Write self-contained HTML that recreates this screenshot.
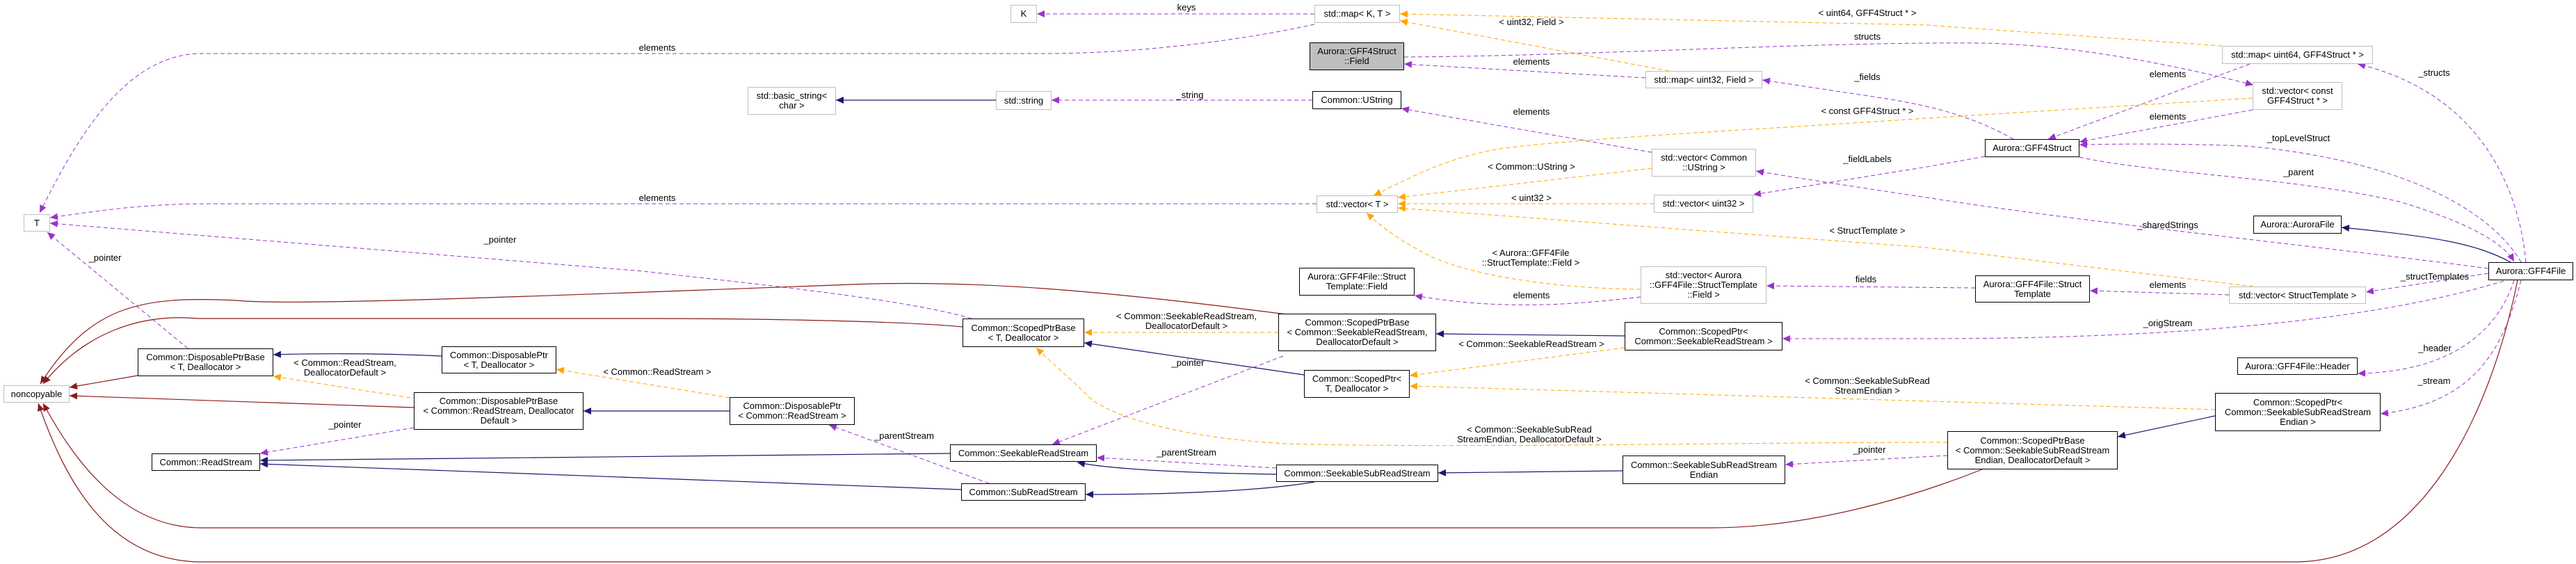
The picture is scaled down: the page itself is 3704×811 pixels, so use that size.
<!DOCTYPE html>
<html><head><meta charset="utf-8"><style>
body{margin:0;width:3704px;height:811px;background:#fff;position:relative;overflow:hidden;font:13px/14px "Liberation Sans",Arial,sans-serif;color:#000}
.n{position:absolute;box-sizing:border-box;border:1px solid #000;background:#fff;display:flex;align-items:center;justify-content:center;text-align:center;white-space:nowrap}
.g{border-color:#bfbfbf}
.l{position:absolute;transform:translate(-50%,-50%);white-space:nowrap;text-align:center;line-height:14px}
svg{position:absolute;left:0;top:0}
</style></head><body>
<svg width="3704" height="811" viewBox="0 0 3704 811" fill="none">
<defs>
<marker id="p" markerUnits="userSpaceOnUse" markerWidth="12" markerHeight="10" refX="11" refY="5" orient="auto"><path d="M0,0L11,5L0,10z" fill="#9a32cd"/></marker>
<marker id="o" markerUnits="userSpaceOnUse" markerWidth="12" markerHeight="10" refX="11" refY="5" orient="auto"><path d="M0,0L11,5L0,10z" fill="#ffa500"/></marker>
<marker id="b" markerUnits="userSpaceOnUse" markerWidth="12" markerHeight="10" refX="11" refY="5" orient="auto"><path d="M0,0L11,5L0,10z" fill="#191970"/></marker>
<marker id="r" markerUnits="userSpaceOnUse" markerWidth="12" markerHeight="10" refX="11" refY="5" orient="auto"><path d="M0,0L11,5L0,10z" fill="#8b1a1a"/></marker>
</defs>
<g stroke="#9a32cd" stroke-dasharray="6,4" stroke-width="1" marker-end="url(#p)">
<path d="M1890,20L1491,20"/>
<path d="M1890,35C1800,55 1650,77 1500,77L290,77C180,77 110,200 57,306"/>
<path d="M1887,144L1512,144"/>
<path d="M1893,293L300,293C200,293 130,305 72,313"/>
<path d="M1397,458C1300,430 1100,410 925,390L72,321"/>
<path d="M270,501L68,334"/>
<path d="M595,615L374,652"/>
<path d="M1422,695L1192,611"/>
<path d="M1845,512L1513,639"/>
<path d="M1835,673L1577,658"/>
<path d="M2800,655L2567,668"/>
<path d="M3625,403C3600,500 3560,580 3423,595"/>
<path d="M3615,403C3590,480 3520,535 3390,537"/>
<path d="M3600,404C3450,450 3200,487 2770,487L2563,487"/>
<path d="M3578,393L3402,420"/>
<path d="M3578,386C3300,350 3000,320 2770,284C2650,266 2580,255 2525,246"/>
<path d="M2990,226C3100,250 3300,255 3450,290C3550,320 3600,350 3615,376"/>
<path d="M3625,377C3580,300 3450,230 3230,210C3100,205 3010,208 2990,208"/>
<path d="M3632,377C3620,250 3550,130 3390,92"/>
<path d="M2895,200C2850,175 2800,155 2700,140L2534,115"/>
<path d="M2854,225L2770,240L2521,280"/>
<path d="M3235,92L2945,200"/>
<path d="M3239,158L2990,204"/>
<path d="M2019,82C2300,80 2600,60 2850,62C3000,65 3150,100 3240,122"/>
<path d="M2366,112L2019,92"/>
<path d="M2375,219L2015,156"/>
<path d="M2359,427C2250,440 2150,445 2034,425"/>
<path d="M2840,414L2540,411"/>
<path d="M3205,424L3005,418"/>
</g>
<g stroke="#ffa500" stroke-dasharray="6,4" stroke-width="1" marker-end="url(#o)">
<path d="M590,572L393,541"/>
<path d="M1049,572L800,531"/>
<path d="M1838,478L1559,478"/>
<path d="M2800,636C2500,636 2100,645 1850,638C1700,630 1600,600 1567,572C1540,545 1510,520 1490,500"/>
<path d="M2336,500L2027,540"/>
<path d="M3185,589L2027,555"/>
<path d="M2400,102L2013,30"/>
<path d="M3195,66L2770,36L2013,20"/>
<path d="M3239,141L2770,170C2500,188 2250,200 2150,215C2070,230 2020,260 1975,281"/>
<path d="M2375,242L2010,284"/>
<path d="M2378,293L2010,293"/>
<path d="M3240,412L2770,356L2010,299"/>
<path d="M2359,416C2250,415 2130,400 2060,370C2010,345 1985,325 1965,306"/>
</g>
<g stroke="#191970" stroke-width="1.2" marker-end="url(#b)">
<path d="M1432,144L1202,144"/>
<path d="M635,512C550,508 450,508 393,510"/>
<path d="M1049,591L839,591"/>
<path d="M1366,652L374,662"/>
<path d="M1382,704L374,667"/>
<path d="M1875,539L1559,493"/>
<path d="M1835,682C1700,680 1600,675 1549,665"/>
<path d="M1890,693C1820,705 1700,711 1561,711"/>
<path d="M2333,677L2068,680"/>
<path d="M2336,483L2065,480"/>
<path d="M3185,598L3045,628"/>
<path d="M3610,377C3560,350 3500,340 3367,327"/>
</g>
<g stroke="#8b1a1a" stroke-width="1.2" marker-end="url(#r)">
<path d="M1850,452C1600,420 1400,400 1200,410L930,420C600,432 400,438 340,432C200,425 130,440 58,552"/>
<path d="M1384,470C1300,462 1100,458 920,458L285,458C200,450 120,480 62,552"/>
<path d="M198,540L100,557"/>
<path d="M595,586L100,569"/>
<path d="M2850,675C2750,715 2600,759 2460,759L290,759C170,759 100,650 62,580"/>
<path d="M3620,403C3580,600 3480,808 3300,808L290,808C150,808 90,680 55,580"/>
</g>
</svg>

<div class="n g" style="left:1453px;top:7px;width:38px;height:26px">K</div>
<div class="n g" style="left:1890px;top:7px;width:123px;height:26px">std::map&lt; K, T &gt;</div>
<div class="n" style="left:1883px;top:61px;width:136px;height:40px;background:#bfbfbf">Aurora::GFF4Struct<br>::Field</div>
<div class="n g" style="left:2366px;top:102px;width:168px;height:25px">std::map&lt; uint32, Field &gt;</div>
<div class="n g" style="left:3195px;top:66px;width:217px;height:26px">std::map&lt; uint64, GFF4Struct * &gt;</div>
<div class="n g" style="left:3239px;top:118px;width:129px;height:40px">std::vector&lt; const<br>GFF4Struct * &gt;</div>
<div class="n g" style="left:1075px;top:125px;width:127px;height:40px">std::basic_string&lt;<br>char &gt;</div>
<div class="n g" style="left:1432px;top:131px;width:80px;height:27px">std::string</div>
<div class="n" style="left:1887px;top:131px;width:128px;height:26px">Common::UString</div>
<div class="n" style="left:2854px;top:200px;width:136px;height:26px">Aurora::GFF4Struct</div>
<div class="n g" style="left:2375px;top:214px;width:150px;height:40px">std::vector&lt; Common<br>::UString &gt;</div>
<div class="n g" style="left:34px;top:308px;width:38px;height:25px">T</div>
<div class="n g" style="left:1893px;top:281px;width:117px;height:25px">std::vector&lt; T &gt;</div>
<div class="n g" style="left:2378px;top:280px;width:143px;height:26px">std::vector&lt; uint32 &gt;</div>
<div class="n" style="left:3240px;top:310px;width:127px;height:26px">Aurora::AuroraFile</div>
<div class="n" style="left:3578px;top:377px;width:122px;height:26px">Aurora::GFF4File</div>
<div class="n" style="left:1868px;top:385px;width:166px;height:40px">Aurora::GFF4File::Struct<br>Template::Field</div>
<div class="n g" style="left:2359px;top:383px;width:181px;height:54px">std::vector&lt; Aurora<br>::GFF4File::StructTemplate<br>::Field &gt;</div>
<div class="n" style="left:2840px;top:396px;width:165px;height:39px">Aurora::GFF4File::Struct<br>Template</div>
<div class="n g" style="left:3205px;top:412px;width:197px;height:25px">std::vector&lt; StructTemplate &gt;</div>
<div class="n" style="left:1384px;top:458px;width:175px;height:41px">Common::ScopedPtrBase<br>&lt; T, Deallocator &gt;</div>
<div class="n" style="left:1838px;top:451px;width:227px;height:54px">Common::ScopedPtrBase<br>&lt; Common::SeekableReadStream,<br>DeallocatorDefault &gt;</div>
<div class="n" style="left:2336px;top:463px;width:227px;height:41px">Common::ScopedPtr&lt;<br>Common::SeekableReadStream &gt;</div>
<div class="n" style="left:198px;top:501px;width:195px;height:40px">Common::DisposablePtrBase<br>&lt; T, Deallocator &gt;</div>
<div class="n" style="left:635px;top:498px;width:165px;height:39px">Common::DisposablePtr<br>&lt; T, Deallocator &gt;</div>
<div class="n" style="left:3217px;top:514px;width:173px;height:25px">Aurora::GFF4File::Header</div>
<div class="n" style="left:1875px;top:532px;width:152px;height:40px">Common::ScopedPtr&lt;<br>T, Deallocator &gt;</div>
<div class="n g" style="left:5px;top:554px;width:95px;height:25px">noncopyable</div>
<div class="n" style="left:595px;top:564px;width:244px;height:54px">Common::DisposablePtrBase<br>&lt; Common::ReadStream, Deallocator<br>Default &gt;</div>
<div class="n" style="left:1049px;top:571px;width:180px;height:40px">Common::DisposablePtr<br>&lt; Common::ReadStream &gt;</div>
<div class="n" style="left:3185px;top:565px;width:238px;height:55px">Common::ScopedPtr&lt;<br>Common::SeekableSubReadStream<br>Endian &gt;</div>
<div class="n" style="left:2800px;top:620px;width:245px;height:55px">Common::ScopedPtrBase<br>&lt; Common::SeekableSubReadStream<br>Endian, DeallocatorDefault &gt;</div>
<div class="n" style="left:218px;top:652px;width:156px;height:25px">Common::ReadStream</div>
<div class="n" style="left:1366px;top:639px;width:211px;height:25px">Common::SeekableReadStream</div>
<div class="n" style="left:1835px;top:668px;width:233px;height:25px">Common::SeekableSubReadStream</div>
<div class="n" style="left:2333px;top:655px;width:234px;height:41px">Common::SeekableSubReadStream<br>Endian</div>
<div class="n" style="left:1382px;top:695px;width:179px;height:25px">Common::SubReadStream</div>

<div class="l" style="left:1706px;top:11px">keys</div>
<div class="l" style="left:945px;top:69px">elements</div>
<div class="l" style="left:1711px;top:137px">_string</div>
<div class="l" style="left:945px;top:285px">elements</div>
<div class="l" style="left:719px;top:345px">_pointer</div>
<div class="l" style="left:151px;top:371px">_pointer</div>
<div class="l" style="left:496px;top:529px">&lt; Common::ReadStream,<br>DeallocatorDefault &gt;</div>
<div class="l" style="left:945px;top:535px">&lt; Common::ReadStream &gt;</div>
<div class="l" style="left:496px;top:611px">_pointer</div>
<div class="l" style="left:1706px;top:462px">&lt; Common::SeekableReadStream,<br>DeallocatorDefault &gt;</div>
<div class="l" style="left:1708px;top:522px">_pointer</div>
<div class="l" style="left:1300px;top:627px">_parentStream</div>
<div class="l" style="left:1706px;top:651px">_parentStream</div>
<div class="l" style="left:2685px;top:19px">&lt; uint64, GFF4Struct * &gt;</div>
<div class="l" style="left:2202px;top:32px">&lt; uint32, Field &gt;</div>
<div class="l" style="left:2685px;top:53px">structs</div>
<div class="l" style="left:2202px;top:89px">elements</div>
<div class="l" style="left:2685px;top:111px">_fields</div>
<div class="l" style="left:2202px;top:161px">elements</div>
<div class="l" style="left:2685px;top:160px">&lt; const GFF4Struct * &gt;</div>
<div class="l" style="left:2202px;top:240px">&lt; Common::UString &gt;</div>
<div class="l" style="left:2685px;top:229px">_fieldLabels</div>
<div class="l" style="left:2202px;top:285px">&lt; uint32 &gt;</div>
<div class="l" style="left:2685px;top:332px">&lt; StructTemplate &gt;</div>
<div class="l" style="left:2201px;top:371px">&lt; Aurora::GFF4File<br>::StructTemplate::Field &gt;</div>
<div class="l" style="left:2202px;top:425px">elements</div>
<div class="l" style="left:2683px;top:402px">fields</div>
<div class="l" style="left:2202px;top:495px">&lt; Common::SeekableReadStream &gt;</div>
<div class="l" style="left:2685px;top:555px">&lt; Common::SeekableSubRead<br>StreamEndian &gt;</div>
<div class="l" style="left:2199px;top:625px">&lt; Common::SeekableSubRead<br>StreamEndian, DeallocatorDefault &gt;</div>
<div class="l" style="left:2688px;top:647px">_pointer</div>
<div class="l" style="left:3500px;top:105px">_structs</div>
<div class="l" style="left:3117px;top:107px">elements</div>
<div class="l" style="left:3117px;top:168px">elements</div>
<div class="l" style="left:3305px;top:199px">_topLevelStruct</div>
<div class="l" style="left:3305px;top:248px">_parent</div>
<div class="l" style="left:3117px;top:324px">_sharedStrings</div>
<div class="l" style="left:3117px;top:410px">elements</div>
<div class="l" style="left:3501px;top:398px">_structTemplates</div>
<div class="l" style="left:3117px;top:465px">_origStream</div>
<div class="l" style="left:3501px;top:501px">_header</div>
<div class="l" style="left:3500px;top:548px">_stream</div>
</body></html>
